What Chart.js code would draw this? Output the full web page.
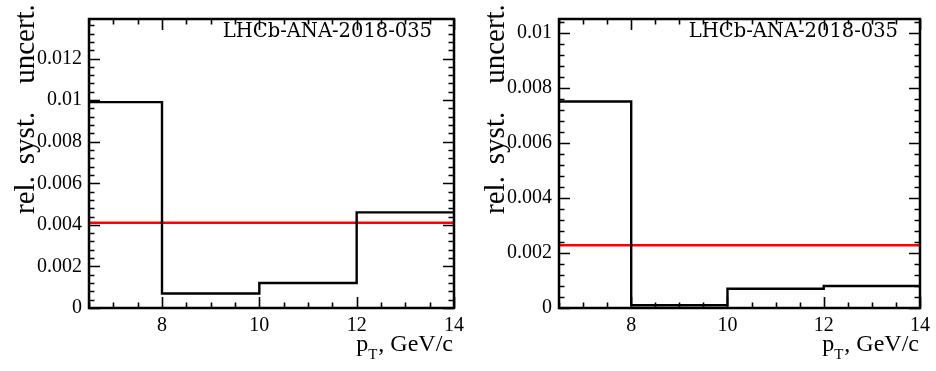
<!DOCTYPE html>
<html>
<head>
<meta charset="utf-8">
<script src="https://cdn.jsdelivr.net/npm/chart.js@4.4.0/dist/chart.umd.min.js"></script>
<style>
  body { margin: 0; background: #fff; }
  #wrap { position: relative; width: 936px; height: 371px; }
  canvas { position: absolute; top: 0; }
</style>
</head>
<body>
<div id="wrap">
  <canvas id="leftChart" width="470" height="371" style="left:0"></canvas>
  <canvas id="rightChart" width="466" height="371" style="left:470px"></canvas>
</div>
<script>
// bin edges in pT (GeV/c)
const binEdges = [6.5, 8, 10, 12, 14];
const xTicks = [8, 10, 12, 14];

// left panel
const leftValues = [0.0099, 0.0007, 0.0012, 0.0046];
const leftMean = 0.0041;
const leftYTicks = [0, 0.002, 0.004, 0.006, 0.008, 0.01, 0.012];
const leftYMax = 0.0139;

// right panel
const rightValues = [0.0075, 0.0001, 0.0007, 0.0008];
const rightMean = 0.00228;
const rightYTicks = [0, 0.002, 0.004, 0.006, 0.008, 0.01];
const rightYMax = 0.0105;

const stamp = 'LHCb-ANA-2018-035';
const yTitleWords = ['rel.', 'syst.', 'uncert.'];

function histPoints(values) {
  return binEdges.map((e, i) => ({ x: e, y: values[Math.min(i, values.length - 1)] }));
}

// ROOT-like frame, inward ticks, texts
const decorPlugin = {
  id: 'decor',
  afterDatasetsDraw(chart) {
    const ctx = chart.ctx;
    const a = chart.chartArea;
    const xs = chart.scales.x, ys = chart.scales.y;
    ctx.save();
    ctx.strokeStyle = '#000';
    ctx.lineWidth = 2.5;
    ctx.strokeRect(a.left, a.top, a.right - a.left, a.bottom - a.top);

    ctx.lineWidth = 1.6;
    ctx.beginPath();
    // x ticks (bottom and top)
    for (let v = xs.min; v <= xs.max + 1e-9; v += 0.5) {
      const px = Math.round(xs.getPixelForValue(v)) + 0.5;
      const major = xTicks.some(t => Math.abs(t - v) < 1e-9);
      const len = major ? 11 : 5.5;
      ctx.moveTo(px, a.bottom); ctx.lineTo(px, a.bottom - len);
      ctx.moveTo(px, a.top); ctx.lineTo(px, a.top + len);
    }
    // y ticks (left and right)
    for (let i = 0; i * 0.0004 <= ys.max + 1e-12; i++) {
      const v = i * 0.0004;
      const py = Math.round(ys.getPixelForValue(v)) + 0.5;
      const len = (i % 5 === 0) ? 11 : 5.5;
      ctx.moveTo(a.left, py); ctx.lineTo(a.left + len, py);
      ctx.moveTo(a.right, py); ctx.lineTo(a.right - len, py);
    }
    ctx.stroke();

    ctx.fillStyle = '#000';
    // stamp
    ctx.font = '19.5px "DejaVu Serif"';
    ctx.textAlign = 'right';
    ctx.textBaseline = 'alphabetic';
    ctx.fillText(stamp, a.right - 22, 37);

    // x title: p_T, GeV/c
    const base = 351;
    ctx.font = '24px "Liberation Serif"';
    ctx.textAlign = 'right';
    ctx.fillText('GeV/c', a.right - 1, base);
    const gx = a.right - 1 - ctx.measureText('GeV/c').width - ctx.measureText(' ').width;
    ctx.textAlign = 'left';
    ctx.font = '15px "Liberation Serif"';
    const tw = ctx.measureText('T').width;
    ctx.font = '24px "Liberation Serif"';
    const cw = ctx.measureText(',').width;
    const pw = ctx.measureText('p').width;
    const px0 = gx - cw - tw - pw - 1;
    ctx.fillText('p', px0, base);
    ctx.fillText(',', px0 + pw + tw + 1, base);
    ctx.font = '15px "Liberation Serif"';
    ctx.fillText('T', px0 + pw, base + 8);

    // y title
    ctx.font = '29px "Liberation Serif"';
    ctx.textAlign = 'center';
    const centers = [195, 138, 44];
    yTitleWords.forEach((w, i) => {
      ctx.save();
      ctx.translate(34, centers[i]);
      ctx.rotate(-Math.PI / 2);
      ctx.fillText(w, 0, 0);
      ctx.restore();
    });
    ctx.restore();
  }
};

function buildPanel(id, values, mean, yTicks, yMax, rightPad) {
  const ctx = document.getElementById(id).getContext('2d');
  new Chart(ctx, {
    type: 'line',
    data: {
      datasets: [
        {
          data: histPoints(values),
          stepped: 'before',
          borderColor: '#000',
          borderWidth: 2.4,
          pointRadius: 0,
          fill: false
        },
        {
          data: [{ x: binEdges[0], y: mean }, { x: binEdges[binEdges.length - 1], y: mean }],
          borderColor: '#ff0000',
          borderWidth: 2.4,
          pointRadius: 0,
          fill: false
        }
      ]
    },
    options: {
      responsive: false,
      animation: false,
      layout: { autoPadding: false, padding: { top: 9, right: rightPad, left: 0, bottom: 0 } },
      plugins: { legend: { display: false }, tooltip: { enabled: false } },
      scales: {
        x: {
          type: 'linear',
          min: binEdges[0],
          max: binEdges[binEdges.length - 1],
          grid: { display: false, drawTicks: false },
          border: { display: false },
          afterBuildTicks: s => { s.ticks = xTicks.map(v => ({ value: v })); },
          afterFit: s => { s.height = 63; },
          ticks: {
            padding: 6,
            color: '#000',
            maxRotation: 0,
            font: { family: 'Liberation Serif', size: 20 },
            callback: v => String(v)
          }
        },
        y: {
          min: 0,
          max: yMax,
          grid: { display: false, drawTicks: false },
          border: { display: false },
          afterBuildTicks: s => { s.ticks = yTicks.map(v => ({ value: v })); },
          afterFit: s => { s.width = 89; },
          ticks: {
            padding: 7,
            color: '#000',
            font: { family: 'Liberation Serif', size: 20 },
            callback: v => String(+v.toFixed(4))
          }
        }
      }
    },
    plugins: [decorPlugin]
  });
}

buildPanel('leftChart', leftValues, leftMean, leftYTicks, leftYMax, 16);
buildPanel('rightChart', rightValues, rightMean, rightYTicks, rightYMax, 12);
</script>
</body>
</html>
